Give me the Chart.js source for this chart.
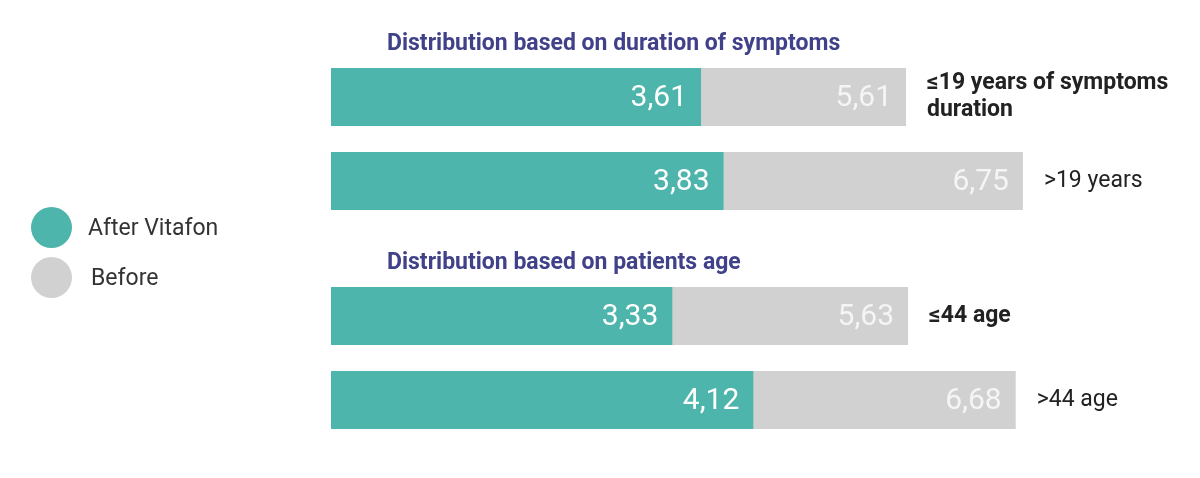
<!DOCTYPE html>
<html>
<head>
<meta charset="utf-8">
<script src="https://cdn.jsdelivr.net/npm/chart.js@4.4.1/dist/chart.umd.min.js"></script>
<style>
  body { margin: 0; background: #fff; width: 1200px; height: 478px; overflow: hidden; position: relative; font-family: Roboto, sans-serif; }
  canvas { position: absolute; left: 0; }
  #durationChart { top: 0; }
  #ageChart { top: 239px; }
  .legend-item { position: absolute; left: 31px; height: 41px; display: flex; align-items: center; font-size: 23px; color: #333; }
  .legend-dot { width: 41px; height: 41px; border-radius: 50%; margin-right: 16px; }
</style>
</head>
<body>
<canvas id="durationChart" width="1200" height="239"></canvas>
<canvas id="ageChart" width="1200" height="239"></canvas>
<div id="legend"></div>
<script>
const seriesNames = ["After Vitafon", "Before"];

const durationTitle = "Distribution based on duration of symptoms";
const durationLabels = [["≤19 years of symptoms", "duration"], ">19 years"];
const durationAfter = [3.61, 3.83];
const durationBefore = [5.61, 6.75];

const ageTitle = "Distribution based on patients age";
const ageLabels = ["≤44 age", ">44 age"];
const ageAfter = [3.33, 4.12];
const ageBefore = [5.63, 6.68];

const TEAL = "#4db5ab";
const GRAY = "#d1d1d1";

// legend on the left, shared by both charts
const legendTops = [207, 257];
const legendGaps = [16, 19];
const legendEl = document.getElementById("legend");
seriesNames.forEach((name, i) => {
  const item = document.createElement("div");
  item.className = "legend-item";
  item.style.top = legendTops[i] + "px";
  item.innerHTML = '<span class="legend-dot" style="background:' + [TEAL, GRAY][i] +
    ';margin-right:' + legendGaps[i] + 'px"></span>' + name;
  legendEl.appendChild(item);
});

const fmt = (v) => v.toFixed(2).replace(".", ",");

// group title, value labels inside the bars, category labels after the bars
const groupText = {
  id: "groupText",
  afterDatasetsDraw(chart, args, opts) {
    const ctx = chart.ctx;
    const area = chart.chartArea;
    ctx.save();

    ctx.fillStyle = "#41418a";
    ctx.font = "bold 23px Roboto";
    ctx.textAlign = "left";
    ctx.textBaseline = "alphabetic";
    ctx.fillText(opts.title, area.left + 56, area.top - 5);

    ctx.font = "30px Roboto";
    ctx.textAlign = "right";
    ctx.textBaseline = "middle";
    chart.data.datasets.forEach((ds, d) => {
      chart.getDatasetMeta(d).data.forEach((bar, i) => {
        ctx.fillStyle = d === 0 ? "#ffffff" : "#f5f5f5";
        ctx.fillText(fmt(ds.data[i]), bar.x - 14, bar.y + 1);
      });
    });

    ctx.fillStyle = "#222";
    ctx.textAlign = "left";
    const bars0 = chart.getDatasetMeta(0).data;
    const bars1 = chart.getDatasetMeta(1).data;
    chart.data.labels.forEach((label, i) => {
      const lines = Array.isArray(label) ? label : [label];
      const x = Math.max(bars0[i].x, bars1[i].x) + 21;
      const y0 = bars1[i].y - (lines.length - 1) * 13.5;
      ctx.font = (i === 0 ? "bold " : "") + "23px Roboto";
      lines.forEach((line, k) => ctx.fillText(line, x, y0 + k * 27));
    });
    ctx.restore();
  },
};

function makeChart(id, title, labels, after, before, padding) {
  return new Chart(document.getElementById(id), {
    type: "bar",
    data: {
      labels: labels,
      datasets: [
        { label: seriesNames[0], data: after, backgroundColor: TEAL, grouped: false },
        { label: seriesNames[1], data: before, backgroundColor: GRAY, grouped: false },
      ],
    },
    options: {
      indexAxis: "y",
      responsive: false,
      animation: false,
      categoryPercentage: 1,
      barPercentage: 0.69,
      layout: { padding: padding },
      scales: {
        x: { display: false, min: 0, max: 8 },
        y: { display: false },
      },
      plugins: {
        legend: { display: false },
        tooltip: { enabled: false },
        groupText: { title: title },
      },
    },
    plugins: [groupText],
  });
}

makeChart("durationChart", durationTitle, durationLabels, durationAfter, durationBefore,
  { left: 331, right: 49, top: 55, bottom: 16 });
makeChart("ageChart", ageTitle, ageLabels, ageAfter, ageBefore,
  { left: 331, right: 49, top: 35, bottom: 36 });
</script>
</body>
</html>
